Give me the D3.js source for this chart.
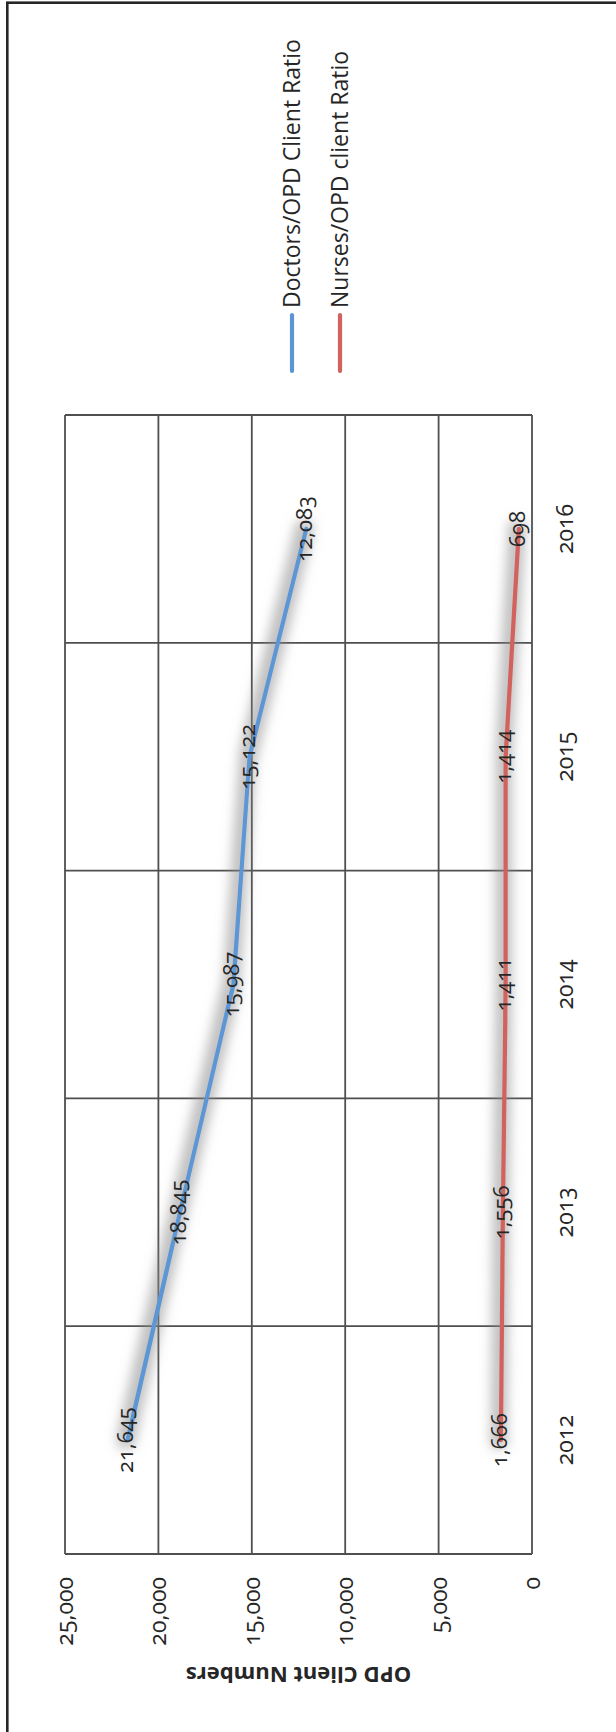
<!DOCTYPE html>
<meta charset="utf-8">
<style>
body{margin:0;background:#fff;}
svg text{font-family:"Open Sans","Noto Sans",sans-serif;fill:#262626;font-variant-numeric:oldstyle-nums;}
</style>
<svg id="chart" width="616" height="1732"></svg>
<script src="https://d3js.org/d3.v7.min.js"></script>
<script>
// chart is drawn in its own landscape frame, then turned a quarter left
const years = ['2012', '2013', '2014', '2015', '2016']
const doctors = [21645, 18845, 15987, 15122, 12083]
const nurses = [1666, 1556, 1411, 1414, 698]
const valueTicks = [0, 5000, 10000, 15000, 20000, 25000]
const seriesNames = ['Doctors/OPD Client Ratio', 'Nurses/OPD client Ratio']
const seriesColors = ['#5b96d4', '#d2625d']

const W = 1732
let svg = d3.select('#chart')

// soft grey halo under the lines
let defs = svg.append('defs')
let f = defs.append('filter').attr('id', 'shadow')
  .attr('filterUnits', 'userSpaceOnUse')
  .attr('x', 0).attr('y', 0).attr('width', W).attr('height', 616)
f.append('feMorphology').attr('in', 'SourceAlpha').attr('operator', 'dilate').attr('radius', 6).attr('result', 'd')
f.append('feGaussianBlur').attr('in', 'd').attr('stdDeviation', 6).attr('result', 'b')
f.append('feOffset').attr('in', 'b').attr('dx', 0).attr('dy', -2).attr('result', 'o')
f.append('feFlood').attr('flood-color', '#8a8a8a').attr('flood-opacity', 0.55).attr('result', 'c')
f.append('feComposite').attr('in', 'c').attr('in2', 'o').attr('operator', 'in').attr('result', 's')
let m = f.append('feMerge')
m.append('feMergeNode').attr('in', 's')
m.append('feMergeNode').attr('in', 'SourceGraphic')

let g = svg.append('g').attr('transform', `translate(0,${W}) rotate(-90)`)

// outer frame (only top/right edges fall inside the page)
g.append('rect')
  .attr('x', -20).attr('y', 7.3).attr('width', 1749.3).attr('height', 700)
  .attr('fill', 'none').attr('stroke', '#262626').attr('stroke-width', 2.6)

let x = d3.scaleBand().domain(years).range([178, 1317])
let y = d3.scaleLinear().domain([0, 25000]).range([532, 65])

let grid = g.append('g').attr('stroke', '#4f4f4f').attr('stroke-width', 1.8)
grid.selectAll('line.v').data(valueTicks).join('line')
  .attr('x1', 178).attr('x2', 1317)
  .attr('y1', d => y(d)).attr('y2', d => y(d))
let bounds = years.map(d => x(d)).concat([x.range()[1]])
grid.selectAll('line.c').data(bounds).join('line')
  .attr('x1', d => d).attr('x2', d => d)
  .attr('y1', y(25000)).attr('y2', y(0))

// value tick labels
g.selectAll('text.tick').data(valueTicks).join('text')
  .attr('x', 155).attr('y', d => y(d)).attr('dy', '0.35em')
  .attr('text-anchor', 'end').style('font-size', '23px')
  .text(d => d3.format(',')(d))

// year labels
g.selectAll('text.year').data(years).join('text')
  .attr('x', d => x(d) + x.bandwidth() / 2).attr('y', 565).attr('dy', '0.35em')
  .attr('text-anchor', 'middle').style('font-size', '23px')
  .text(d => d)

// axis title
g.append('text')
  .attr('transform', `translate(57,${(y(0) + y(25000)) / 2}) rotate(-90)`)
  .attr('dy', '0.35em').attr('text-anchor', 'middle')
  .style('font-size', '22px').style('font-weight', 'bold')
  .text('OPD Client Numbers')

let line = d3.line().x((d, i) => x(years[i]) + x.bandwidth() / 2).y(d => y(d))
let series = [doctors, nurses]

g.selectAll('path.s').data(series).join('path')
  .attr('d', line).attr('fill', 'none')
  .attr('stroke', (d, i) => seriesColors[i]).attr('stroke-width', 4.2)
  .attr('stroke-linejoin', 'round').attr('stroke-linecap', 'round')
  .attr('filter', 'url(#shadow)')

series.forEach(s => {
  g.selectAll(null).data(s).join('text')
    .attr('x', (d, i) => x(years[i]) + x.bandwidth() / 2)
    .attr('y', d => y(d) - 2).attr('dy', '0.35em')
    .attr('text-anchor', 'middle').style('font-size', '22px')
    .text(d => d3.format(',')(d))
})

// legend
let leg = g.selectAll('g.leg').data(seriesNames).join('g')
  .attr('transform', (d, i) => `translate(1361,${292 + i * 48})`)
leg.append('line').attr('x1', 0).attr('x2', 56)
  .attr('stroke', (d, i) => seriesColors[i]).attr('stroke-width', 4.2)
  .attr('stroke-linecap', 'round')
leg.append('text').attr('x', 63).attr('dy', '0.35em')
  .style('font-size', '23px').text(d => d)
</script>
